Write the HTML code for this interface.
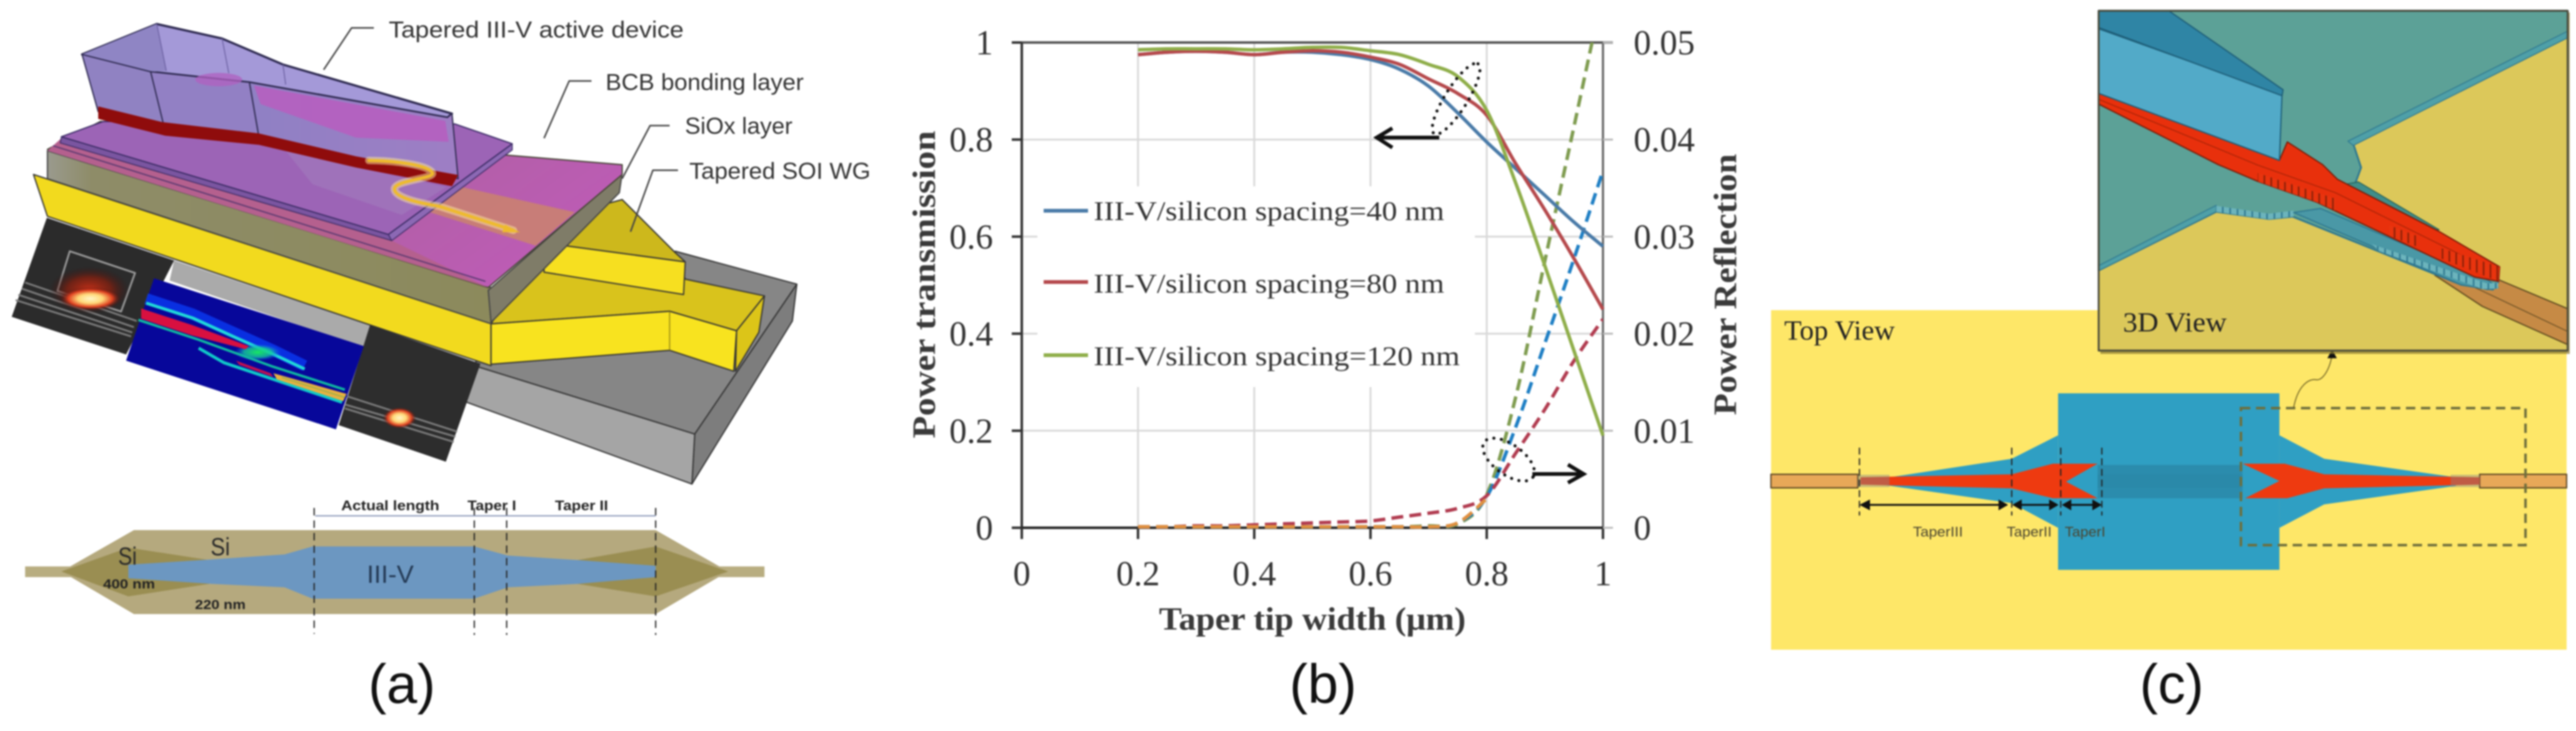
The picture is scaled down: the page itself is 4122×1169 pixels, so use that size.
<!DOCTYPE html>
<html lang="en">
<head>
<meta charset="utf-8">
<title>Tapered III-V/silicon coupler figure</title>
<style>
html,body{margin:0;padding:0;background:#fff;width:4122px;height:1169px;overflow:hidden}
#figure{display:block;filter:blur(1.4px)}
#figure polygon,#figure path,#figure line,#figure rect,#figure ellipse,#figure polyline{vector-effect:non-scaling-stroke}
.sans{font-family:"Liberation Sans",sans-serif}
.serif{font-family:"Liberation Serif",serif}
</style>
</head>
<body>
<svg id="figure" xmlns="http://www.w3.org/2000/svg" width="4122" height="1169" viewBox="0 0 4122 1169">
<defs>
<radialGradient id="hot"><stop offset="0" stop-color="#fff6c8"/><stop offset=".4" stop-color="#ffd878"/><stop offset=".72" stop-color="#e04020"/><stop offset="1" stop-color="#401010" stop-opacity="0"/></radialGradient>
<radialGradient id="halo"><stop offset="0" stop-color="#c83018"/><stop offset=".55" stop-color="#802010" stop-opacity=".8"/><stop offset="1" stop-color="#301010" stop-opacity="0"/></radialGradient>
<radialGradient id="greenGlow"><stop offset="0" stop-color="#18e860"/><stop offset=".6" stop-color="#14c8a0" stop-opacity=".8"/><stop offset="1" stop-color="#1060ff" stop-opacity="0"/></radialGradient>
<linearGradient id="devFace" x1="0" x2="1" y1="0" y2="0"><stop offset="0" stop-color="#8f80c4"/><stop offset="1" stop-color="#9e7ec4"/></linearGradient>
<linearGradient id="topMag" x1="0" x2="1" y1="0" y2="0.4"><stop offset="0" stop-color="#a65b9a"/><stop offset=".7" stop-color="#b35fa8"/><stop offset="1" stop-color="#bc5cb4"/></linearGradient>
<linearGradient id="oliveFace" x1="0" x2="1" y1="0" y2="0"><stop offset="0" stop-color="#9a9a8e"/><stop offset=".1" stop-color="#8e8c68"/><stop offset="1" stop-color="#8c8a5c"/></linearGradient>
<pattern id="hatch" patternUnits="userSpaceOnUse" width="13" height="40"><rect width="13" height="40" fill="#e8340e"/><rect x="0" width="3" height="40" fill="#8a2008"/></pattern>
<pattern id="hatchBlue" patternUnits="userSpaceOnUse" width="14" height="40"><rect width="14" height="40" fill="#6cb4bc"/><rect x="0" width="3" height="40" fill="#2f7890"/></pattern>
<clipPath id="plot-clip"><rect x="1635" y="68" width="930" height="780"/></clipPath>
</defs>
<rect width="4122" height="1169" fill="#fff"/>

<!-- PANEL A : 3D device (authored in crop coordinates) -->
<g>
<g transform="scale(0.8929,0.4464)" stroke-linejoin="round">
  <polygon points="1210,900 1428,1018 1245,1555 850,1310 880,1160 1200,1000" fill="#868686" stroke="#333" stroke-width="2"/>
  <polygon points="1428,1018 1420,1150 1240,1734 1245,1555" fill="#7d7d7d" stroke="#333" stroke-width="2"/>
  <polygon points="850,1310 1245,1555 1240,1734 835,1440" fill="#a5a5a5" stroke="#333" stroke-width="2"/>
  <polygon points="312,933 663,1165 652,1245 304,1005" fill="#aaaaaa"/>

  <polygon points="880,1160 975,870 1030,760 1115,715 1210,905 1228,1000 1370,1060 1320,1185 1200,1115" fill="#d9c31c" stroke="#333" stroke-width="2"/>
  <polygon points="1370,1060 1360,1190 1318,1330 1320,1185" fill="#dcc518" stroke="#333" stroke-width="2"/>
  <polygon points="60,625 880,1160 880,1310 85,775" fill="#f2da1e" stroke="#333" stroke-width="2"/>
  <polygon points="880,1160 1200,1115 1320,1185 1315,1330 1200,1255 880,1305" fill="#f8e31f" stroke="#333" stroke-width="2"/>
  <line x1="1200" y1="1115" x2="1200" y2="1255" stroke="#8a7c10" stroke-width="1.5"/>
  <polygon points="975,870 1228,938 1225,1055 975,975" fill="#f6df20" stroke="#333" stroke-width="2"/>
  <polygon points="1030,760 1115,715 1210,905 1228,938 975,870" fill="#cdb81c" stroke="#333" stroke-width="2"/>

  <polygon points="85,540 880,1030 880,1160 85,640" fill="url(#oliveFace)" stroke="#444" stroke-width="2"/>
  <polygon points="875,1040 1115,620 1110,690 880,1155" fill="#7f7c68" stroke="#444" stroke-width="2"/>
  <polygon points="85,535 180,435 1115,590 1115,625 875,1030" fill="url(#topMag)" stroke="#443" stroke-width="2"/>
  <polygon points="85,540 110,495 702,862 875,1030" fill="#b5608e"/>
  <line x1="95" y1="522" x2="870" y2="1008" stroke="#5a3a70" stroke-width="2"/>
  <polygon points="805,660 1030,760 960,880 770,760" fill="#c98270" opacity=".88"/>
  <polygon points="110,490 696,840 702,862 108,512" fill="#7a55a0" stroke="#3c2c66" stroke-width="1.5"/>
  <polygon points="696,840 918,515 918,537 702,862" fill="#8c68b4" stroke="#3c2c66" stroke-width="1.5"/>
  <polygon points="110,490 185,435 815,444 918,515 696,840" fill="#9c64b6" stroke="#3c2c66" stroke-width="2"/>
  <polygon points="500,510 640,600 800,670 720,770 560,660" fill="#a178bc" opacity=".7"/>

  <polygon points="147,195 281,86 398,138 507,231 810,407 802,421 447,295 270,257" fill="#a499d8" stroke="#2e2a50" stroke-width="3.5"/>
  <polygon points="147,195 281,86 298,254 270,257" fill="#8f85c4"/>
  <polygon points="147,195 270,257 298,480 176,400" fill="#9082c2" stroke="#2e2a50" stroke-width="2"/>
  <polygon points="270,257 447,295 464,490 296,470" fill="#9280c4" stroke="#2e2a50" stroke-width="2"/>
  <polygon points="447,295 802,421 810,407 821,640 464,490" fill="url(#devFace)" stroke="#2e2a50" stroke-width="2"/>
  <polygon points="455,306 798,433 804,508 638,493 467,373" fill="#b65fc0" opacity=".9"/>
  <ellipse cx="392" cy="285" rx="42" ry="24" fill="#b060c0" opacity=".75"/>
  <line x1="281" y1="86" x2="298" y2="254" stroke="#6a5fa0" stroke-width="1.5"/>
  <line x1="398" y1="138" x2="410" y2="262" stroke="#6a5fa0" stroke-width="1.5"/>
  <line x1="507" y1="231" x2="512" y2="303" stroke="#6a5fa0" stroke-width="1.5"/>
  <polygon points="176,381 290,437 464,478 638,560 821,627 810,667 638,600 464,519 296,486 176,426" fill="#8f0c0c"/>
  <path d="M661,575 C700,575 770,590 775,620 C778,640 710,645 707,675 C705,710 760,730 787,739 L920,825" fill="none" stroke="#ffe9a0" stroke-width="12" opacity=".5" stroke-linecap="round"/>
  <path d="M661,575 C700,575 770,590 775,620 C778,640 710,645 707,675 C705,710 760,730 787,739 L920,825" fill="none" stroke="#eebb2c" stroke-width="5" stroke-linecap="round"/>
  <polygon points="932,832 905,805 900,832" fill="#eebb2c"/>

  <polygon points="84,780 312,933 226,1270 21,1135" fill="#2b2b2b"/>
  <line x1="45" y1="1012" x2="245" y2="1150" stroke="#7c7c7c" stroke-width="3"/>
  <line x1="39" y1="1034" x2="240" y2="1172" stroke="#7c7c7c" stroke-width="3"/>
  <line x1="33" y1="1056" x2="237" y2="1191" stroke="#7c7c7c" stroke-width="3"/>
  <line x1="28" y1="1075" x2="235" y2="1205" stroke="#7c7c7c" stroke-width="3"/>
  <polygon points="125,900 242,978 217,1116 103,1042" fill="none" stroke="#999" stroke-width="3"/>
  <ellipse cx="160" cy="1040" rx="72" ry="85" fill="url(#halo)"/>
  <ellipse cx="162" cy="1070" rx="55" ry="42" fill="url(#hot)"/>

  <polygon points="663,1165 861,1303 799,1654 607,1523" fill="#2d2d2d"/>
  <line x1="621" y1="1419" x2="819" y2="1546" stroke="#7c7c7c" stroke-width="3"/>
  <line x1="618" y1="1449" x2="816" y2="1564" stroke="#7c7c7c" stroke-width="3"/>
  <line x1="618" y1="1463" x2="813" y2="1583" stroke="#7c7c7c" stroke-width="3"/>
  <ellipse cx="716" cy="1497" rx="30" ry="38" fill="url(#hot)"/>

  <polygon points="276,997 652,1240 602,1538 226,1292" fill="#07079a"/>
  <polyline points="262,1070 345,1125 423,1195 490,1255 546,1310" fill="none" stroke="#0a40ff" stroke-width="18" opacity=".7"/>
  <polyline points="262,1086 345,1139 423,1210 490,1269 546,1322" fill="none" stroke="#20d8d8" stroke-width="5"/>
  <ellipse cx="462" cy="1262" rx="42" ry="30" fill="url(#greenGlow)"/>
  <polygon points="253,1105 345,1165 446,1240 440,1251 345,1202 253,1142" fill="#d81040"/>
  <polyline points="248,1146 356,1217 490,1314 618,1396" fill="none" stroke="#10b8a0" stroke-width="4"/>
  <polyline points="356,1247 401,1299 490,1359 613,1441" fill="none" stroke="#10c8c8" stroke-width="5"/>
  <polygon points="423,1292 485,1337 490,1351 429,1307" fill="#c01050"/>
  <polygon points="490,1337 621,1411 615,1437 496,1359" fill="#e8b040"/>
  <polyline points="505,1352 618,1424" fill="none" stroke="#a8b048" stroke-width="2.5"/>

  <polyline points="670,100 630,100 580,250" fill="none" stroke="#444" stroke-width="2.5"/>
  <polyline points="1060,290 1020,290 975,495" fill="none" stroke="#444" stroke-width="2.5"/>
  <polyline points="1200,450 1165,450 1115,640" fill="none" stroke="#444" stroke-width="2.5"/>
  <polyline points="1215,610 1170,610 1130,830" fill="none" stroke="#444" stroke-width="2.5"/>
</g>
<g class="sans" font-size="37" fill="#333">
  <text x="622" y="60" textLength="472" lengthAdjust="spacingAndGlyphs">Tapered III-V active device</text>
  <text x="969" y="144" textLength="317" lengthAdjust="spacingAndGlyphs">BCB bonding layer</text>
  <text x="1096" y="214" textLength="172" lengthAdjust="spacingAndGlyphs">SiOx layer</text>
  <text x="1103" y="286" textLength="290" lengthAdjust="spacingAndGlyphs">Tapered SOI WG</text>
</g>

<g transform="translate(0,600) scale(0.8929,0.3628)">
  <rect x="45" y="843" width="1325" height="47" fill="#b8ad80"/>
  <polygon points="110,865 240,683 1175,683 1305,865 1175,1053 240,1053" fill="#b5a97e"/>
  <polygon points="110,865 230,760 375,815 375,920 230,975" fill="#9a8e52"/>
  <polygon points="1305,865 1175,755 1035,815 1035,920 1175,975" fill="#9a8e52"/>
  <polygon points="230,835 380,812 510,790 560,755 850,755 910,795 1035,815 1175,840 1175,890 1035,920 910,935 850,985 560,985 510,935 380,920 230,895" fill="#6c97c1"/>
  <line x1="563" y1="585" x2="563" y2="1140" stroke="#222" stroke-width="2" stroke-dasharray="12 8"/>
  <line x1="850" y1="585" x2="850" y2="1145" stroke="#222" stroke-width="2" stroke-dasharray="12 8"/>
  <line x1="908" y1="585" x2="908" y2="1145" stroke="#222" stroke-width="2" stroke-dasharray="12 8"/>
  <line x1="1175" y1="585" x2="1175" y2="1145" stroke="#222" stroke-width="2" stroke-dasharray="12 8"/>
  <line x1="565" y1="620" x2="1175" y2="620" stroke="#8a97b8" stroke-width="2"/>
</g>
<g class="sans" fill="#222" font-weight="bold" font-size="22">
  <text x="546" y="816" textLength="157" lengthAdjust="spacingAndGlyphs">Actual length</text>
  <text x="748" y="816" textLength="78" lengthAdjust="spacingAndGlyphs">Taper I</text>
  <text x="888" y="816" textLength="85" lengthAdjust="spacingAndGlyphs">Taper II</text>
  <text x="165" y="941" font-size="21" textLength="83" lengthAdjust="spacingAndGlyphs">400 nm</text>
  <text x="312" y="974" font-size="21" textLength="81" lengthAdjust="spacingAndGlyphs">220 nm</text>
</g>
<g class="sans" fill="#2a2a2a" font-size="40">
  <text x="337" y="888" textLength="31" lengthAdjust="spacingAndGlyphs">Si</text>
  <text x="189" y="903" textLength="30" lengthAdjust="spacingAndGlyphs">Si</text>
  <text x="587" y="932" fill="#243a55" textLength="75" lengthAdjust="spacingAndGlyphs">III-V</text>
</g>
<text class="sans" x="643" y="1124" font-size="88" text-anchor="middle" fill="#111">(a)</text>
</g>

<!-- PANEL B : chart drawn by script -->
<g id="panel-b"></g>

<!-- PANEL C -->
<g>
<rect x="2834" y="496" width="1273" height="543" fill="#fee768"/>
<g transform="translate(2800,550) scale(0.8432,0.3948)">
  <rect x="40" y="528" width="165" height="55" fill="#e8a858" stroke="#554020" stroke-width="2"/>
  <rect x="1385" y="528" width="165" height="55" fill="#e8a858" stroke="#554020" stroke-width="2"/>
  <polygon points="585,370 497,465 250,545 250,570 497,645 585,745" fill="#2f9fc3"/>
  <polygon points="1005,370 1090,465 1340,540 1340,575 1090,650 1005,745" fill="#2f9fc3"/>
  <rect x="585" y="200" width="420" height="715" fill="#2f9fc3"/>
  <rect x="660" y="490" width="275" height="135" fill="#2b8cad"/>
  <rect x="660" y="528" width="275" height="55" fill="#2a87a6" opacity=".6"/>
  <polygon points="210,540 497,528 575,485 660,485 600,558 660,625 575,625 497,585 210,570" fill="#ee3a10"/>
  <polygon points="1385,540 1090,528 1015,485 935,485 1005,555 940,625 1020,625 1090,585 1385,570" fill="#ee3a10"/>
  <rect x="205" y="530" width="60" height="50" fill="#888" opacity=".45"/>
  <rect x="1330" y="530" width="55" height="50" fill="#888" opacity=".45"/>
  <line x1="208" y1="420" x2="208" y2="695" stroke="#222" stroke-width="2" stroke-dasharray="11 6"/>
  <line x1="497" y1="420" x2="497" y2="695" stroke="#222" stroke-width="2" stroke-dasharray="11 6"/>
  <line x1="590" y1="420" x2="590" y2="695" stroke="#222" stroke-width="2" stroke-dasharray="11 6"/>
  <line x1="668" y1="420" x2="668" y2="695" stroke="#222" stroke-width="2" stroke-dasharray="11 6"/>
  <line x1="215" y1="652" x2="488" y2="652" stroke="#111" stroke-width="3"/>
  <line x1="503" y1="652" x2="582" y2="652" stroke="#111" stroke-width="3"/>
  <line x1="597" y1="652" x2="665" y2="652" stroke="#111" stroke-width="3"/>
  <polygon points="208,652 228,630 228,674" fill="#111"/>
  <polygon points="490,652 472,630 472,674" fill="#111"/>
  <polygon points="498,652 516,630 516,674" fill="#111"/>
  <polygon points="586,652 568,630 568,674" fill="#111"/>
  <polygon points="592,652 610,630 610,674" fill="#111"/>
  <polygon points="668,652 650,630 650,674" fill="#111"/>
  <rect x="932" y="260" width="540" height="555" fill="none" stroke="#6e6e3c" stroke-width="4" stroke-dasharray="15 9"/>
  <path d="M1032,258 C1040,170 1060,140 1075,145 C1090,150 1105,80 1105,30" fill="none" stroke="#665a20" stroke-width="1.5"/>
  <polygon points="1105,22 1096,58 1114,58" fill="#111"/>
</g>
<g class="sans" fill="#4a4530" font-size="22">
  <text x="3061" y="858" textLength="80" lengthAdjust="spacingAndGlyphs">TaperIII</text>
  <text x="3211" y="858" textLength="72" lengthAdjust="spacingAndGlyphs">TaperII</text>
  <text x="3304" y="858" textLength="65" lengthAdjust="spacingAndGlyphs">TaperI</text>
</g>
<text class="serif" x="2855" y="543" font-size="44" fill="#222" textLength="177" lengthAdjust="spacingAndGlyphs">Top View</text>

<rect x="3361" y="20" width="751" height="546" fill="#8a7a30" opacity=".7"/>
<g transform="translate(2800,0) scale(0.8432,0.3827)" stroke-linejoin="round">
  <rect x="662" y="45" width="890" height="1420" fill="#dcc85a"/>
  <polygon points="1420,1168 1552,1290 1552,1440 1390,1280 1300,1150" fill="#c68a45" stroke="#5e4a20" stroke-width="2"/>
  <line x1="1370" y1="1195" x2="1552" y2="1385" stroke="#6e5226" stroke-width="1.5"/>
  <polygon points="662,45 1552,45 1552,150 1145,600 1160,700 1150,760 1410,1130 1420,1180 1410,1210 1350,1190 1030,905 985,915 885,885 662,1130" fill="#5ca197" stroke="#2f7890" stroke-width="3"/>
  <polygon points="1552,130 1135,590 1145,608 1552,158" fill="#4fa0a8" stroke="#2f7890" stroke-width="1.5"/>
  <polygon points="662,1110 885,858 885,885 662,1132" fill="#4fa0a8" stroke="#2f7890" stroke-width="1.5"/>
  <polygon points="885,860 985,893 1032,880 1032,905 985,917 885,885" fill="url(#hatchBlue)"/>
  <polygon points="1032,888 1083,871 1400,1170 1420,1202 1400,1210 1350,1190" fill="#4a98a6" stroke="#2f7890" stroke-width="2"/>
  <polygon points="1180,1020 1400,1185 1420,1180 1420,1206 1390,1208 1195,1050" fill="url(#hatchBlue)"/>
  <polygon points="1155,760 1308,960 1290,962 1130,770" fill="#3f8e8a" stroke="#245e58" stroke-width="1.5"/>
  <polygon points="662,390 1005,670 1020,593 1087,688 1115,749 1308,967 1423,1115 1421,1176 1376,1158 1075,844 964,758 889,688 662,435" fill="#e8300c" stroke="#7a1c08" stroke-width="2"/>
  <polyline points="662,415 964,690 1111,805 1400,1120" fill="none" stroke="#a82408" stroke-width="1.5"/>
  <polygon points="964,723 1111,830 1111,880 1075,844 964,758" fill="url(#hatch)"/>
  <polygon points="1213,941 1265,985 1265,1030 1213,985" fill="url(#hatch)"/>
  <polygon points="1312,1037 1423,1115 1421,1176 1312,1080" fill="url(#hatch)"/>
  <polygon points="662,120 1010,395 1005,670 662,390" fill="#52aac8" stroke="#1e5e78" stroke-width="2"/>
  <polygon points="662,45 795,45 1012,375 1010,400 662,115" fill="#2f85a5" stroke="#1e5e78" stroke-width="2"/>
  <rect x="662" y="45" width="890" height="1420" fill="none" stroke="#4a4a3a" stroke-width="3"/>
</g>
<text class="serif" x="3397" y="530" font-size="44" fill="#222" textLength="166" lengthAdjust="spacingAndGlyphs">3D View</text>
<text class="sans" x="3475" y="1124" font-size="88" text-anchor="middle" fill="#111">(c)</text>
</g>

<text class="sans" x="2117" y="1124" font-size="88" text-anchor="middle" fill="#111">(b)</text>
</svg>

<script>
// ---- chart data ----
const taperWidths = [0.2,0.25,0.3,0.35,0.4,0.45,0.5,0.55,0.6,0.65,0.7,0.75,0.8,0.85,0.9,0.95,1];
const transmission40 = [0.975,0.98,0.982,0.98,0.975,0.98,0.98,0.975,0.965,0.945,0.91,0.855,0.795,0.74,0.685,0.63,0.58];
const transmission80 = [0.975,0.98,0.982,0.98,0.975,0.98,0.983,0.98,0.97,0.955,0.925,0.895,0.85,0.75,0.655,0.555,0.45];
const transmission120 = [0.985,0.987,0.987,0.987,0.985,0.987,0.99,0.99,0.983,0.975,0.955,0.93,0.86,0.71,0.54,0.365,0.19];
const reflection120 = [0.0001,0.0001,0.0001,0.0001,0.0001,0.0001,0.0001,0.0001,0.0001,0.0001,0.0002,0.0004,0.0034,0.0135,0.0275,0.0413,0.0553];
const reflection40 = [0.0001,0.0001,0.0001,0.0001,0.0001,0.0001,0.0001,0.0001,0.0001,0.0001,0.0001,0.0005,0.0032,0.0104,0.019,0.0277,0.0368];
const reflection80 = [0.0001,0.0001,0.0002,0.0002,0.0003,0.0004,0.0005,0.0006,0.0007,0.0011,0.0015,0.002,0.0033,0.0077,0.0122,0.0172,0.0215];
const reflectionLowWidths = [0.2,0.25,0.3,0.35,0.4,0.45,0.5,0.55,0.6,0.65,0.7,0.75,0.8];
const reflectionLow = [0.0001,0.0001,0.0001,0.0001,0.0001,0.0001,0.0001,0.0001,0.0001,0.0001,0.0001,0.0005,0.003];
const xTickLabels = ['0','0.2','0.4','0.6','0.8','1'];
const leftTickLabels = ['0','0.2','0.4','0.6','0.8','1'];
const rightTickLabels = ['0','0.01','0.02','0.03','0.04','0.05'];
const legendLabels = ['III-V/silicon spacing=40 nm','III-V/silicon spacing=80 nm','III-V/silicon spacing=120 nm'];

// ---- axis functions ----
const NS = 'http://www.w3.org/2000/svg';
const root = document.getElementById('panel-b');
const xPos = v => 1635 + 930 * v;
const yLeft = v => 844 - 776 * v;
const yRight = v => 844 - 776 * (v / 0.05);

function make(tag, attrs, text) {
  const el = document.createElementNS(NS, tag);
  for (const k in attrs) el.setAttribute(k, attrs[k]);
  if (text !== undefined) el.textContent = text;
  root.appendChild(el);
  return el;
}
function smoothPath(xs, ys, yFn) {
  const p = xs.map((x, i) => [xPos(x), yFn(ys[i])]);
  let d = 'M' + p[0][0].toFixed(1) + ',' + p[0][1].toFixed(1);
  for (let i = 0; i < p.length - 1; i++) {
    const a = p[Math.max(i - 1, 0)], b = p[i], c = p[i + 1], e = p[Math.min(i + 2, p.length - 1)];
    const c1 = [b[0] + (c[0] - a[0]) / 6, b[1] + (c[1] - a[1]) / 6];
    const c2 = [c[0] - (e[0] - b[0]) / 6, c[1] - (e[1] - b[1]) / 6];
    d += 'C' + c1[0].toFixed(1) + ',' + c1[1].toFixed(1) + ' ' + c2[0].toFixed(1) + ',' + c2[1].toFixed(1) + ' ' + c[0].toFixed(1) + ',' + c[1].toFixed(1);
  }
  return d;
}

// ---- grid ----
xTickLabels.forEach(t => {
  const v = parseFloat(t);
  if (v > 0 && v < 1) {
    const g = make('line', {x1: xPos(v), x2: xPos(v), y1: yLeft(1), y2: yLeft(0), stroke: '#d9d9d9', 'stroke-width': 3});
    
    
  }
});
leftTickLabels.forEach(t => {
  const v = parseFloat(t);
  if (v > 0 && v < 1) {
    const g = make('line', {x1: xPos(0), x2: xPos(1) + 16, y1: yLeft(v), y2: yLeft(v), stroke: '#d9d9d9', 'stroke-width': 3});
    
    
  }
});
const legendBox = make('rect', {x: 1660, y: 298, width: 700, height: 321, fill: '#fff'});



// ---- frame ----
const frameTop = make('line', {x1: xPos(0), x2: xPos(1) + 16, y1: yLeft(1), y2: yLeft(1), stroke: '#555', 'stroke-width': 4});


const frameRight = make('line', {x1: xPos(1), x2: xPos(1), y1: yLeft(1), y2: yLeft(0), stroke: '#666', 'stroke-width': 3.5});


const frameLeft = make('line', {x1: xPos(0), x2: xPos(0), y1: yLeft(1), y2: yLeft(0), stroke: '#333', 'stroke-width': 4});


const frameBottom = make('line', {x1: xPos(0), x2: xPos(1), y1: yLeft(0), y2: yLeft(0), stroke: '#222', 'stroke-width': 4});



// ---- ticks and tick labels ----
const serif = '"Liberation Serif", serif';
xTickLabels.forEach(t => {
  const v = parseFloat(t);
  const tick = make('line', {x1: xPos(v), x2: xPos(v), y1: yLeft(0), y2: yLeft(0) + 18, stroke: '#333', 'stroke-width': 4});
  
  
  const lab = make('text', {x: xPos(v), y: 936, 'font-family': serif, 'font-size': 56, fill: '#333', 'text-anchor': 'middle'}, t);
  
  
});
leftTickLabels.forEach(t => {
  const v = parseFloat(t);
  const tick = make('line', {x1: xPos(0) - 16, x2: xPos(0), y1: yLeft(v), y2: yLeft(v), stroke: '#333', 'stroke-width': 4});
  
  
  const lab = make('text', {x: 1589, y: yLeft(v) + 19, 'font-family': serif, 'font-size': 56, fill: '#333', 'text-anchor': 'end'}, t);
  
  
});
rightTickLabels.forEach(t => {
  const v = parseFloat(t);
  const tick = make('line', {x1: xPos(1), x2: xPos(1) + 16, y1: yRight(v), y2: yRight(v), stroke: '#bbb', 'stroke-width': 3});
  
  
  const lab = make('text', {x: 2614, y: yRight(v) + 19, 'font-family': serif, 'font-size': 56, fill: '#333'}, t);
  
  
});

// ---- axis titles ----
const xTitle = make('text', {x: 2100, y: 1007, 'font-family': serif, 'font-size': 52, 'font-weight': 'bold', fill: '#3a3a3a', 'text-anchor': 'middle', textLength: 491, lengthAdjust: 'spacingAndGlyphs'}, 'Taper tip width (\u03bcm)');


const yTitle = make('text', {transform: 'translate(1496,455) rotate(-90)', 'font-family': serif, 'font-size': 52, 'font-weight': 'bold', fill: '#3a3a3a', 'text-anchor': 'middle', textLength: 492, lengthAdjust: 'spacingAndGlyphs'}, 'Power transmission');


const y2Title = make('text', {transform: 'translate(2778,455) rotate(-90)', 'font-family': serif, 'font-size': 52, 'font-weight': 'bold', fill: '#3a3a3a', 'text-anchor': 'middle', textLength: 418, lengthAdjust: 'spacingAndGlyphs'}, 'Power Reflection');



// ---- reflection series (dashed, right axis) ----
const dashStyle = {fill: 'none', 'stroke-width': 5.5, 'stroke-dasharray': '19 10', 'clip-path': 'url(#plot-clip)'};
const dashG = make('path', Object.assign({d: smoothPath(taperWidths, reflection120, yRight), stroke: '#7f9c50'}, dashStyle));


const dashB = make('path', Object.assign({d: smoothPath(taperWidths, reflection40, yRight), stroke: '#1f7fc4'}, dashStyle));


const dashR = make('path', Object.assign({d: smoothPath(taperWidths, reflection80, yRight), stroke: '#b13c50'}, dashStyle));


const dashO = make('path', Object.assign({d: smoothPath(reflectionLowWidths, reflectionLow, yRight), stroke: '#e09040'}, dashStyle));



// ---- transmission series (solid, left axis) ----
const solidStyle = {fill: 'none', 'stroke-width': 5.5, 'stroke-linejoin': 'round'};
const solidB = make('path', Object.assign({d: smoothPath(taperWidths, transmission40, yLeft), stroke: '#4a7ba8'}, solidStyle));


const solidR = make('path', Object.assign({d: smoothPath(taperWidths, transmission80, yLeft), stroke: '#b5494c'}, solidStyle));


const solidG = make('path', Object.assign({d: smoothPath(taperWidths, transmission120, yLeft), stroke: '#8fae4a'}, solidStyle));



// ---- legend ----
const legendColors = ['#4a7ba8', '#b5494c', '#8fae4a'];
const legendLineY = [337, 451, 568];
const legendTextY = [352, 468, 584];
const legendWidths = [561, 561, 586];
legendLabels.forEach((label, i) => {
  const sw = make('line', {x1: 1670, x2: 1741, y1: legendLineY[i], y2: legendLineY[i], stroke: legendColors[i], 'stroke-width': 6});
  
  
  const tx = make('text', {x: 1750, y: legendTextY[i], 'font-family': serif, 'font-size': 43, fill: '#333', textLength: legendWidths[i], lengthAdjust: 'spacingAndGlyphs'}, label);
  
  
});

// ---- annotations ----
const noteStyle = {fill: 'none', stroke: '#111', 'stroke-width': 5, 'stroke-linecap': 'round', 'stroke-dasharray': '0.1 12'};
const ell1 = make('ellipse', Object.assign({cx: 2330, cy: 158, rx: 66, ry: 18, transform: 'rotate(-58 2330 158)'}, noteStyle));


const ell2 = make('ellipse', Object.assign({cx: 2414, cy: 735, rx: 48, ry: 24, transform: 'rotate(36 2414 735)'}, noteStyle));


const arrowL = make('path', {d: 'M2303,220 H2203 M2228,205 L2203,220 L2228,236', fill: 'none', stroke: '#111', 'stroke-width': 6});


const arrowR = make('path', {d: 'M2452,758 H2534 M2509,743 L2534,758 L2509,772', fill: 'none', stroke: '#111', 'stroke-width': 6});


</script>
</body>
</html>
